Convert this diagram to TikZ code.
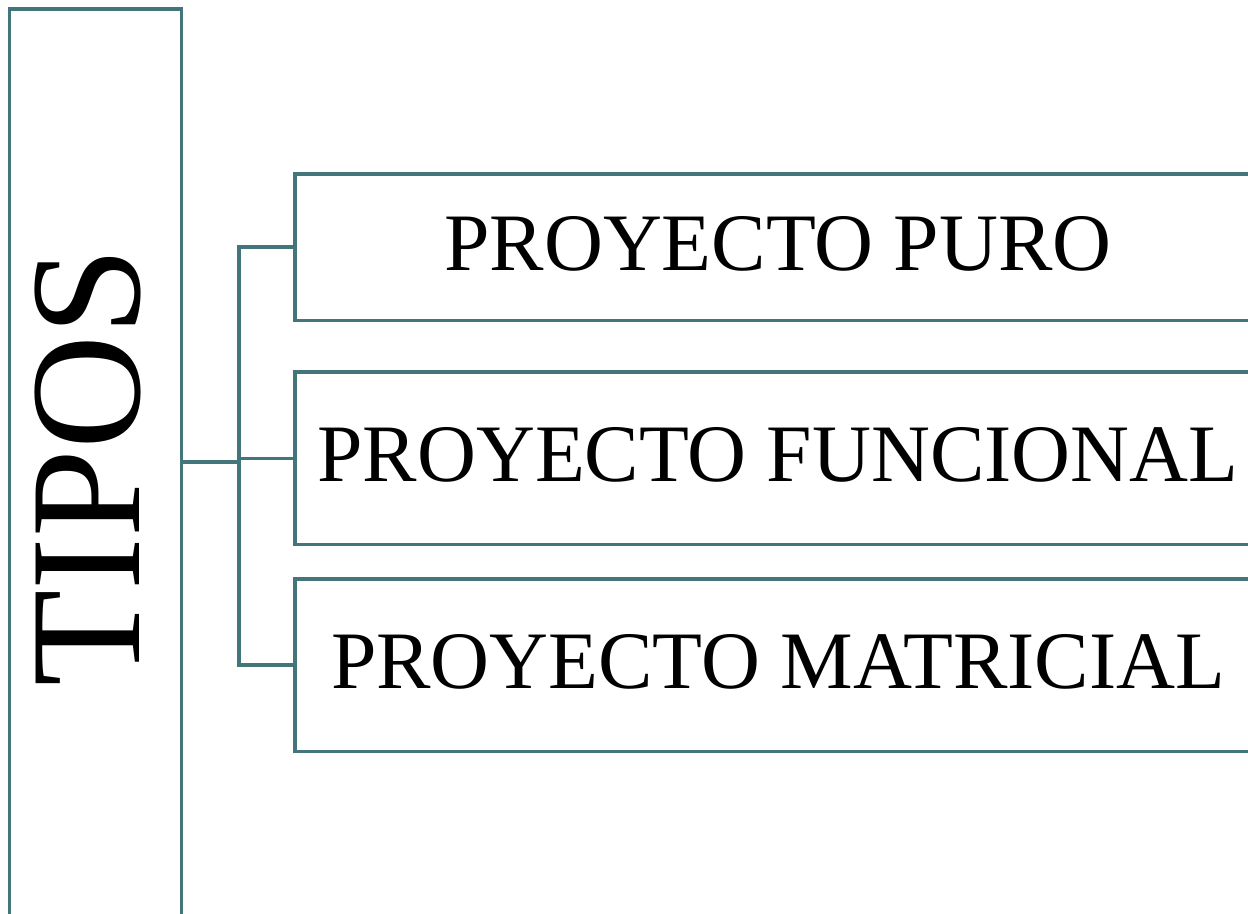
\documentclass[tikz,border=0pt]{standalone}
\usepackage{fontspec}
\setmainfont{Liberation Serif}
\definecolor{verdeazul}{RGB}{66,118,122}
\tikzset{
	caja/.style={draw=verdeazul,line width=1.8pt,rectangle,inner sep=0pt},
	tipo/.style={caja,minimum width=483pt,text depth=4pt,font=\fontsize{40.8}{48}\selectfont},
	rama/.style={draw=verdeazul,line width=1.8pt}
}
\begin{document}
\begin{tikzpicture}[x=0.5pt,y=-0.5pt]
				\useasboundingbox (0,0) rectangle (1248,914);
				\clip (0,0) rectangle (1248,914);
				%	caja vertical
				\node[caja,rotate=90,minimum width=458.5pt,minimum height=86pt,text depth=8pt,font=\fontsize{79}{90}\selectfont] (tipos) at (95.4,467.5) {TIPOS};
				%	tipos de proyecto
				\node[tipo,minimum height=73.15pt] (puro) at (778,247.2) {PROYECTO PURO};
				\node[tipo,minimum height=86.3pt] (funcional) at (778,458.4) {PROYECTO FUNCIONAL};
				\node[tipo,minimum height=86.2pt] (matricial) at (778,665.2) {PROYECTO MATRICIAL};
				
				\coordinate (bifurca) at (238.7,462);
				\draw[rama] (bifurca -| tipos.south) -- (bifurca);
				\draw[rama] (puro.west) -| (bifurca) |- (matricial.west);
				\draw[rama] (funcional.west) -- (funcional.west -| bifurca);
\end{tikzpicture}
\end{document}
